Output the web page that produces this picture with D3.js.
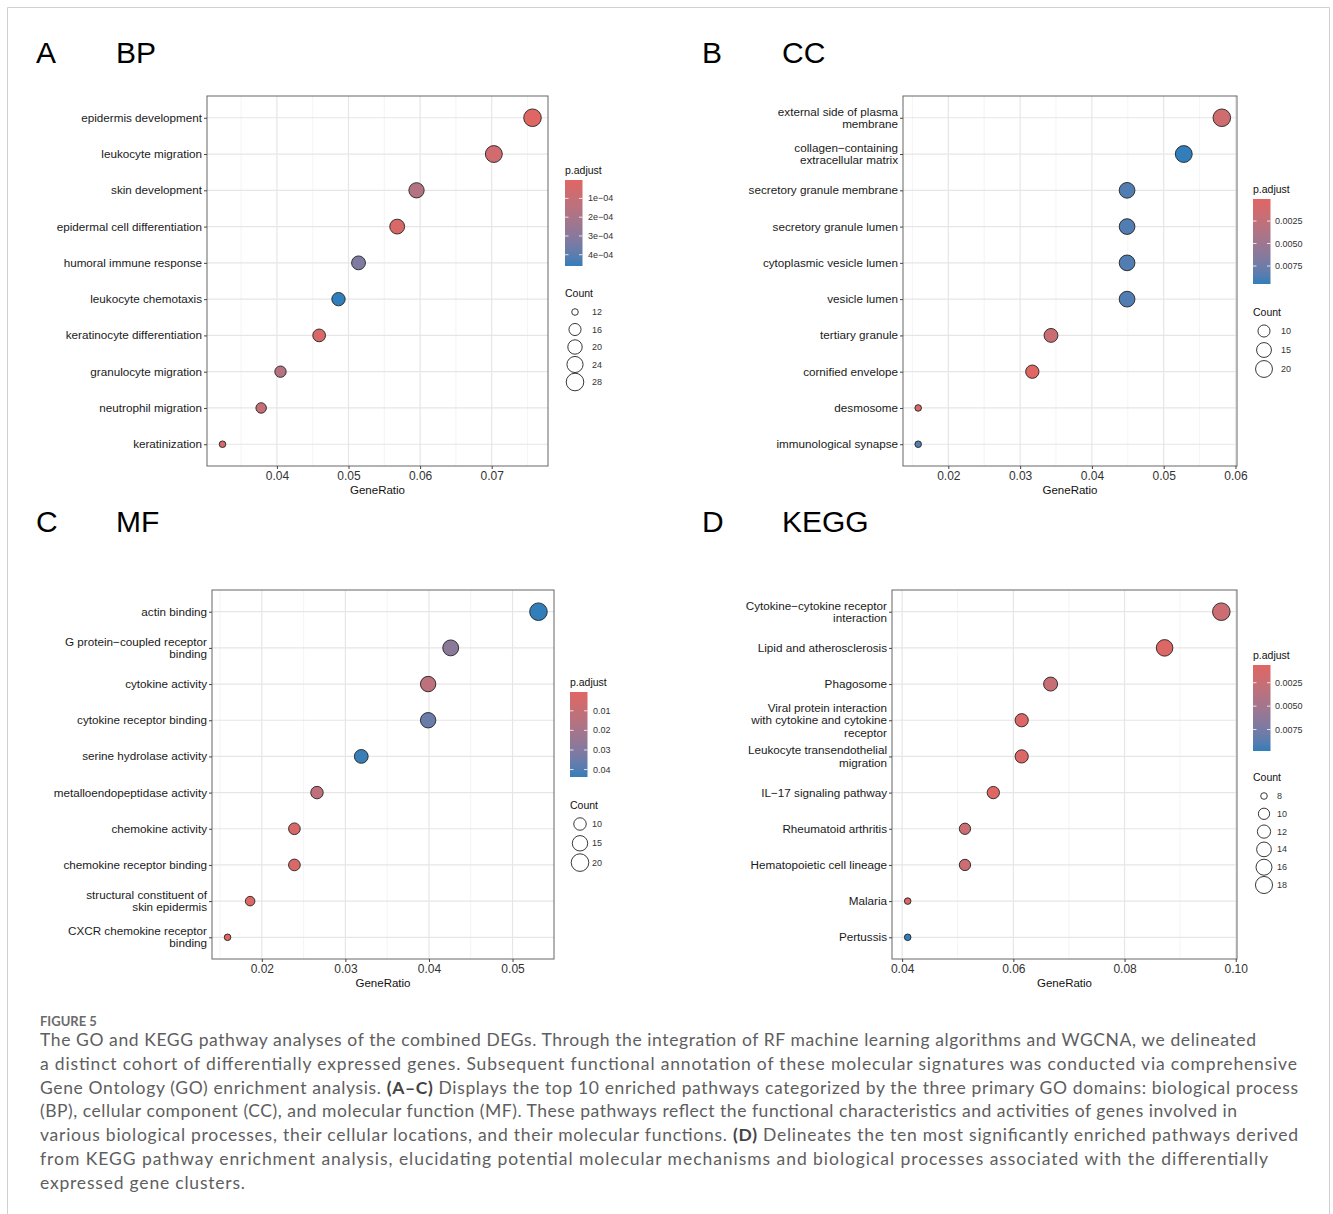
<!DOCTYPE html>
<html>
<head>
<meta charset="utf-8">
<script src="https://cdn.jsdelivr.net/npm/d3@7"></script>
<style>
  body { margin: 0; background: #fff; }
  svg { display: block; }
</style>
</head>
<body>
<script>
// ---- data (top row of each panel first) ----
const bpTerms = ["epidermis development", "leukocyte migration", "skin development",
  "epidermal cell differentiation", "humoral immune response", "leukocyte chemotaxis",
  "keratinocyte differentiation", "granulocyte migration", "neutrophil migration", "keratinization"]
const bpRatio = [0.0757, 0.0703, 0.0595, 0.0568, 0.0514, 0.0486, 0.0459, 0.0405, 0.0378, 0.0324]
const bpCount = [28, 26, 22, 21, 19, 18, 17, 15, 14, 12]
const bpPadj = [2e-6, 6e-5, 1.7e-4, 3e-5, 3.3e-4, 4.6e-4, 3e-5, 1.6e-4, 1.1e-4, 3e-5]
const bpXTicks = [0.04, 0.05, 0.06, 0.07]
const bpPTicks = [1e-4, 2e-4, 3e-4, 4e-4]
const bpPLabels = ["1e\u221204", "2e\u221204", "3e\u221204", "4e\u221204"]
const bpCountBreaks = [12, 16, 20, 24, 28]

const ccTerms = ["external side of plasma\nmembrane", "collagen\u2212containing\nextracellular matrix",
  "secretory granule membrane", "secretory granule lumen", "cytoplasmic vesicle lumen",
  "vesicle lumen", "tertiary granule", "cornified envelope", "desmosome", "immunological synapse"]
const ccRatio = [0.0581, 0.0528, 0.0449, 0.0449, 0.0449, 0.0449, 0.0343, 0.0317, 0.0158, 0.0158]
const ccCount = [22, 20, 17, 17, 17, 17, 13, 12, 6, 6]
const ccPadj = [0.0014, 0.0095, 0.0087, 0.0087, 0.0087, 0.0087, 0.0018, 0.00005, 0.0006, 0.0086]
const ccXTicks = [0.02, 0.03, 0.04, 0.05, 0.06]
const ccPTicks = [0.0025, 0.005, 0.0075]
const ccPLabels = ["0.0025", "0.0050", "0.0075"]
const ccCountBreaks = [10, 15, 20]

const mfTerms = ["actin binding", "G protein\u2212coupled receptor\nbinding", "cytokine activity",
  "cytokine receptor binding", "serine hydrolase activity", "metalloendopeptidase activity",
  "chemokine activity", "chemokine receptor binding", "structural constituent of\nskin epidermis",
  "CXCR chemokine receptor\nbinding"]
const mfRatio = [0.0531, 0.0426, 0.0399, 0.0399, 0.0319, 0.0266, 0.0239, 0.0239, 0.0186, 0.0159]
const mfCount = [20, 16, 15, 15, 12, 10, 9, 9, 7, 6]
const mfPadj = [0.0438, 0.028, 0.013, 0.036, 0.043, 0.012, 0.003, 0.003, 0.002, 0.0004]
const mfXTicks = [0.02, 0.03, 0.04, 0.05]
const mfPTicks = [0.01, 0.02, 0.03, 0.04]
const mfPLabels = ["0.01", "0.02", "0.03", "0.04"]
const mfCountBreaks = [10, 15, 20]

const keggTerms = ["Cytokine\u2212cytokine receptor\ninteraction", "Lipid and atherosclerosis", "Phagosome",
  "Viral protein interaction\nwith cytokine and cytokine\nreceptor", "Leukocyte transendothelial\nmigration",
  "IL\u221217 signaling pathway", "Rheumatoid arthritis", "Hematopoietic cell lineage", "Malaria", "Pertussis"]
const keggRatio = [0.0974, 0.0872, 0.0667, 0.0615, 0.0615, 0.0564, 0.0513, 0.0513, 0.0410, 0.0410]
const keggCount = [19, 17, 13, 12, 12, 11, 10, 10, 8, 8]
const keggPadj = [0.0022, 0.0008, 0.0025, 0.0009, 0.0009, 0.0006, 0.0022, 0.0022, 0.0008, 0.0098]
const keggXTicks = [0.04, 0.06, 0.08, 0.10]
const keggPTicks = [0.0025, 0.005, 0.0075]
const keggPLabels = ["0.0025", "0.0050", "0.0075"]
const keggCountBreaks = [8, 10, 12, 14, 16, 18]

const captionHead = "FIGURE 5"
const captionLines = [
  [["The GO and KEGG pathway analyses of the combined DEGs. Through the integration of RF machine learning algorithms and WGCNA, we delineated", 0]],
  [["a distinct cohort of differentially expressed genes. Subsequent functional annotation of these molecular signatures was conducted via comprehensive", 0]],
  [["Gene Ontology (GO) enrichment analysis. ", 0], ["(A\u2013C)", 1], [" Displays the top 10 enriched pathways categorized by the three primary GO domains: biological process", 0]],
  [["(BP), cellular component (CC), and molecular function (MF). These pathways reflect the functional characteristics and activities of genes involved in", 0]],
  [["various biological processes, their cellular locations, and their molecular functions. ", 0], ["(D)", 1], [" Delineates the ten most significantly enriched pathways derived", 0]],
  [["from KEGG pathway enrichment analysis, elucidating potential molecular mechanisms and biological processes associated with the differentially", 0]],
  [["expressed gene clusters.", 0]]
]
const captionWidths = [1216, 1257, 1258, 1197, 1258, 1228, 205]

// ---- layout ----
const W = 1333, H = 1214
const lowCol = "#e06663", highCol = "#327eba"
const font = "'Liberation Sans', Arial, Helvetica, sans-serif"

const svg = d3.select("body").append("svg")
  .attr("width", W).attr("height", H)
  .style("font-family", font)

// card border
svg.append("path")
  .attr("d", `M7.5,${H} V7.5 H1329.5 V${H}`)
  .attr("fill", "none").attr("stroke", "#d0d0d0").attr("stroke-width", 1)

const panels = [
  { tag: "A", title: "BP", terms: bpTerms, ratio: bpRatio, count: bpCount, padj: bpPadj,
    xTicks: bpXTicks, pTicks: bpPTicks, pLabels: bpPLabels, breaks: bpCountBreaks,
    box: [207, 548, 96, 466], tagX: 36, titleX: 116, tagY: 63,
    lg: { x: 565, pTitleY: 170, bar: [180, 266], labX: 588, cTitleY: 293, key0: 312, keyStep: 17.5, keyCx: 575, keyLabX: 592 } },
  { tag: "B", title: "CC", terms: ccTerms, ratio: ccRatio, count: ccCount, padj: ccPadj,
    xTicks: ccXTicks, pTicks: ccPTicks, pLabels: ccPLabels, breaks: ccCountBreaks,
    box: [903, 1237, 96, 466], tagX: 702, titleX: 782, tagY: 63,
    lg: { x: 1253, pTitleY: 189, bar: [199, 284], labX: 1275, cTitleY: 312, key0: 331, keyStep: 19, keyCx: 1264, keyLabX: 1281 } },
  { tag: "C", title: "MF", terms: mfTerms, ratio: mfRatio, count: mfCount, padj: mfPadj,
    xTicks: mfXTicks, pTicks: mfPTicks, pLabels: mfPLabels, breaks: mfCountBreaks,
    box: [212, 554, 590, 959], tagX: 36, titleX: 116, tagY: 532,
    lg: { x: 570, pTitleY: 682, bar: [692, 777], labX: 593, cTitleY: 805, key0: 824, keyStep: 19.3, keyCx: 580, keyLabX: 592 } },
  { tag: "D", title: "KEGG", terms: keggTerms, ratio: keggRatio, count: keggCount, padj: keggPadj,
    xTicks: keggXTicks, pTicks: keggPTicks, pLabels: keggPLabels, breaks: keggCountBreaks,
    box: [892, 1237, 590, 959], tagX: 702, titleX: 782, tagY: 532,
    lg: { x: 1253, pTitleY: 655, bar: [665, 751], labX: 1275, cTitleY: 777, key0: 796, keyStep: 17.8, keyCx: 1264, keyLabX: 1277 } }
]

panels.forEach((p, pi) => drawPanel(p, pi))

function drawPanel(p, pi) {
  const [x0, x1, y0, y1] = p.box
  const g = svg.append("g")

  // panel tag + title
  g.append("text").attr("x", p.tagX).attr("y", p.tagY).attr("font-size", 30).text(p.tag)
  g.append("text").attr("x", p.titleX).attr("y", p.tagY).attr("font-size", 30).text(p.title)

  // scales (ggplot style 5% expansion)
  const ext = d3.extent(p.ratio)
  const pad = (ext[1] - ext[0]) * 0.05
  const x = d3.scaleLinear().domain([ext[0] - pad, ext[1] + pad]).range([x0, x1])
  const y = d3.scalePoint().domain(p.terms).range([y0, y1]).padding(0.6)
  const pExt = d3.extent(p.padj)
  const color = d3.scaleLinear().domain(pExt).range([lowCol, highCol]).interpolate(d3.interpolateLab)
  const cExt = d3.extent(p.count)
  const size = d3.scaleLinear().domain(cExt).range([0, 1]).clamp(true)
  const r = c => 1.1 * (3 + 5 * Math.sqrt(size(c)))

  // grid
  const step = p.xTicks[1] - p.xTicks[0]
  const minor = []
  for (let v = p.xTicks[0] - step / 2; v <= x.domain()[1]; v += step) {
    if (v >= x.domain()[0]) minor.push(v)
  }
  g.append("g").selectAll("line").data(minor).join("line")
    .attr("x1", d => x(d)).attr("x2", d => x(d)).attr("y1", y0).attr("y2", y1)
    .attr("stroke", "#efefef").attr("stroke-width", 0.7)
  g.append("g").selectAll("line").data(p.xTicks).join("line")
    .attr("x1", d => x(d)).attr("x2", d => x(d)).attr("y1", y0).attr("y2", y1)
    .attr("stroke", "#e6e6e6").attr("stroke-width", 1.2)
  g.append("g").selectAll("line").data(p.terms).join("line")
    .attr("x1", x0).attr("x2", x1).attr("y1", d => y(d)).attr("y2", d => y(d))
    .attr("stroke", "#e6e6e6").attr("stroke-width", 1.2)

  // points
  const rows = p.terms.map((t, i) => ({ t, gr: p.ratio[i], c: p.count[i], pa: p.padj[i] }))
  g.append("g").selectAll("circle").data(rows).join("circle")
    .attr("cx", d => x(d.gr)).attr("cy", d => y(d.t)).attr("r", d => r(d.c))
    .attr("fill", d => color(d.pa)).attr("stroke", "#222").attr("stroke-width", 0.9)

  // border
  g.append("rect").attr("x", x0).attr("y", y0).attr("width", x1 - x0).attr("height", y1 - y0)
    .attr("fill", "none").attr("stroke", "#666").attr("stroke-width", 1)

  // x axis
  const xAxis = d3.axisBottom(x).tickValues(p.xTicks).tickSize(3).tickSizeOuter(0)
    .tickFormat(d3.format(".2f")).tickPadding(2)
  const xg = g.append("g").attr("transform", `translate(0,${y1})`).call(xAxis)
  xg.select(".domain").remove()
  xg.selectAll(".tick line").attr("stroke", "#444")
  xg.selectAll(".tick text").attr("fill", "#333").attr("font-size", 12).attr("font-family", font)
  g.append("text").attr("x", (x0 + x1) / 2).attr("y", y1 + 28).attr("text-anchor", "middle")
    .attr("font-size", 11.5).attr("fill", "#111").text("GeneRatio")

  // y axis
  const yAxis = d3.axisLeft(y).tickSize(3).tickSizeOuter(0).tickFormat("")
  const yg = g.append("g").attr("transform", `translate(${x0},0)`).call(yAxis)
  yg.select(".domain").remove()
  yg.selectAll(".tick line").attr("stroke", "#444")
  const lineH = 12.3
  p.terms.forEach(t => {
    const parts = t.split("\n")
    const tx = g.append("text").attr("text-anchor", "end").attr("font-size", 11.7).attr("fill", "#1a1a1a")
    parts.forEach((s, k) => {
      tx.append("tspan").attr("x", x0 - 5)
        .attr("y", y(t) + 4 + (k - (parts.length - 1) / 2) * lineH).text(s)
    })
  })

  // colour bar legend
  const lg = p.lg
  const barW = 17.5
  g.append("text").attr("x", lg.x).attr("y", lg.pTitleY + 4).attr("font-size", 10.5).attr("fill", "#111").text("p.adjust")
  const gid = "grad" + pi
  const grad = svg.append("defs").append("linearGradient").attr("id", gid)
    .attr("x1", 0).attr("y1", 0).attr("x2", 0).attr("y2", 1)
  d3.range(0, 1.0001, 0.1).forEach(f => {
    grad.append("stop").attr("offset", f).attr("stop-color", color(pExt[0] + f * (pExt[1] - pExt[0])))
  })
  g.append("rect").attr("x", lg.x).attr("y", lg.bar[0]).attr("width", barW).attr("height", lg.bar[1] - lg.bar[0])
    .attr("fill", `url(#${gid})`)
  const by = d3.scaleLinear().domain(pExt).range(lg.bar)
  p.pTicks.forEach((v, i) => {
    const yy = by(v)
    g.append("line").attr("x1", lg.x).attr("x2", lg.x + 3.5).attr("y1", yy).attr("y2", yy)
      .attr("stroke", "#fff").attr("stroke-opacity", 0.8)
    g.append("line").attr("x1", lg.x + barW - 3.5).attr("x2", lg.x + barW).attr("y1", yy).attr("y2", yy)
      .attr("stroke", "#fff").attr("stroke-opacity", 0.8)
    g.append("text").attr("x", lg.labX).attr("y", yy + 3).attr("font-size", 9).attr("fill", "#333").text(p.pLabels[i])
  })

  // size legend
  g.append("text").attr("x", lg.x).attr("y", lg.cTitleY + 4).attr("font-size", 10.5).attr("fill", "#111").text("Count")
  p.breaks.forEach((c, i) => {
    const yy = lg.key0 + i * lg.keyStep
    g.append("circle").attr("cx", lg.keyCx).attr("cy", yy).attr("r", r(c))
      .attr("fill", "none").attr("stroke", "#222").attr("stroke-width", 0.9)
    g.append("text").attr("x", lg.keyLabX).attr("y", yy + 3).attr("font-size", 9).attr("fill", "#333").text(c)
  })
}

// ---- caption ----
const cap = svg.append("g").style("font-family", "Lato, 'Noto Sans', sans-serif")
cap.append("text").attr("x", 40).attr("y", 1026).attr("font-size", 13).attr("font-weight", 700)
  .attr("fill", "#6b6b6b").text(captionHead)
captionLines.forEach((segs, i) => {
  const t = cap.append("text").attr("x", 40).attr("y", 1046 + i * 23.8).attr("font-size", 17.5).attr("fill", "#5e5e5e")
  segs.forEach(([s, b]) => {
    t.append("tspan").attr("font-weight", b ? 700 : 400).attr("fill", b ? "#444" : null).text(s)
  })
  t.attr("textLength", captionWidths[i]).attr("lengthAdjust", "spacing")
})
</script>
</body>
</html>
